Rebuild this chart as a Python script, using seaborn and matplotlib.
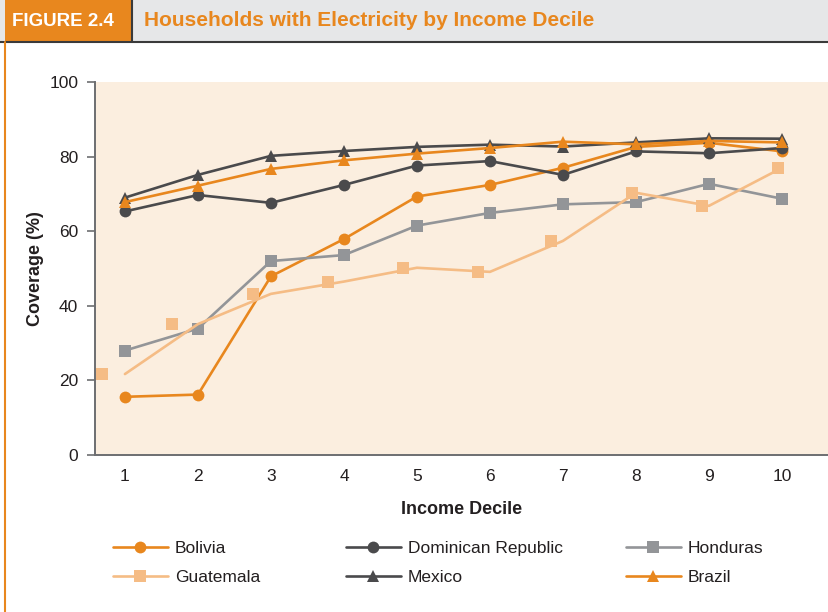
import matplotlib
matplotlib.use("Agg")
import matplotlib.pyplot as plt
from matplotlib.lines import Line2D
from matplotlib.patches import Rectangle
import numpy as np
import pandas as pd
import seaborn as sns

# Values
deciles = [1, 2, 3, 4, 5, 6, 7, 8, 9, 10]
bolivia = [15.6, 16.2, 47.9, 57.9, 69.3, 72.4, 77.0, 82.6, 83.7, 81.4]
dominican = [65.3, 69.7, 67.6, 72.4, 77.6, 78.8, 75.1, 81.4, 80.9, 82.3]
honduras = [28.0, 33.9, 52.0, 53.6, 61.5, 64.9, 67.2, 67.8, 72.7, 68.7]
guatemala = [21.7, 35.1, 43.2, 46.5, 50.2, 49.1, 57.4, 70.3, 66.8, 77.0]
# the printed Guatemala markers sit slightly left of the line vertices
guatemala_marker_deciles = [0.68, 1.64, 2.76, 3.78, 4.81, 5.83, 6.83, 7.95, 8.90, 9.94]
mexico = [69.0, 75.1, 80.2, 81.5, 82.6, 83.2, 82.7, 83.8, 84.9, 84.8]
brazil = [67.8, 72.2, 76.7, 79.0, 80.8, 82.3, 84.0, 83.3, 84.2, 83.8]

ORANGE = "#E8871E"
DARK = "#4A4A4C"
GRAY = "#939598"
LIGHT = "#F5BC85"
BG = "#FBEEDF"
TXT = "#231F20"

sns.set_theme(style="white")
plt.rcParams['font.family'] = ['Liberation Sans', 'DejaVu Sans']

fig = plt.figure(figsize=(8.29, 6.12), dpi=100)

# header band
fig.patches.append(Rectangle((0, 1 - 42 / 612), 1, 42 / 612, transform=fig.transFigure,
                             facecolor="#E6E7E8", edgecolor="none", zorder=0))
fig.patches.append(Rectangle((5 / 829, 1 - 42 / 612), 127 / 829, 42 / 612, transform=fig.transFigure,
                             facecolor=ORANGE, edgecolor="none", zorder=1))
fig.add_artist(Line2D([0, 1], [1 - 42 / 612] * 2, transform=fig.transFigure, color="#3A3A3A", lw=1.5))
fig.add_artist(Line2D([132 / 829] * 2, [1 - 42 / 612, 1], transform=fig.transFigure, color="#3A3A3A", lw=1.5))
fig.add_artist(Line2D([5.5 / 829] * 2, [0, 1 - 42 / 612], transform=fig.transFigure, color=ORANGE, lw=1.5))
fig.text(63 / 829, 1 - 21 / 612, "FIGURE 2.4", color="white", fontsize=13.5, fontweight="bold",
         ha="center", va="center")
fig.text(144 / 829, 1 - 21 / 612, "Households with Electricity by Income Decile", color=ORANGE,
         fontsize=15, fontweight="bold", ha="left", va="center")

ax = fig.add_axes([95 / 829, 1 - 455 / 612, 733 / 829, 373 / 612])
ax.set_facecolor(BG)

series = [
    ("Bolivia", bolivia, ORANGE, "o"),
    ("Dominican Republic", dominican, DARK, "o"),
    ("Honduras", honduras, GRAY, "s"),
    ("Mexico", mexico, DARK, "^"),
    ("Brazil", brazil, ORANGE, "^"),
]

lw = 1.9
for name, vals, col, mk in series:
    sns.lineplot(x=deciles, y=vals, ax=ax, color=col, lw=lw, marker=mk, markersize=8.5,
                 markeredgewidth=0, legend=False)

# Guatemala: line and offset markers
sns.lineplot(x=deciles, y=guatemala, ax=ax, color=LIGHT, lw=lw, legend=False)
sns.scatterplot(x=guatemala_marker_deciles, y=guatemala, ax=ax, color=LIGHT, marker="s",
                s=75, linewidth=0, legend=False, zorder=3)

ax.set_xlim(0.59, 10.63)
ax.set_ylim(0, 100)
ax.set_yticks([0, 20, 40, 60, 80, 100])
ax.set_xticks(deciles)
ax.set_xticks(np.arange(0.59, 10.7, 1.0), minor=True)
ax.tick_params(axis="x", which="major", length=0, pad=10, labelsize=12.5, colors=TXT)
ax.tick_params(axis="x", which="minor", length=7, width=1.2, color="#6D6E71", direction="out")
ax.tick_params(axis="y", length=6, width=1.2, color="#6D6E71", labelsize=12.5, labelcolor=TXT,
               direction="out", left=True, pad=6)
for s in ["top", "right"]:
    ax.spines[s].set_visible(False)
for s in ["left", "bottom"]:
    ax.spines[s].set_color("#6D6E71")
    ax.spines[s].set_linewidth(1.4)

ax.set_xlabel("Income Decile", fontsize=13, fontweight="bold", color=TXT, labelpad=12)
ax.set_ylabel("Coverage (%)", fontsize=13, fontweight="bold", color=TXT, labelpad=4)

def handle(col, mk):
    return Line2D([], [], color=col, lw=lw, marker=mk, markersize=8.5, markeredgewidth=0)

# legend: three one-column blocks, reading row-wise like the reference
columns = [
    ([handle(ORANGE, "o"), handle(LIGHT, "s")], ["Bolivia", "Guatemala"], 97),
    ([handle(DARK, "o"), handle(DARK, "^")], ["Dominican Republic", "Mexico"], 330),
    ([handle(GRAY, "s"), handle(ORANGE, "^")], ["Honduras", "Brazil"], 610),
]
for hs, ls, xpx in columns:
    fig.legend(hs, ls, loc="center left", bbox_to_anchor=(xpx / 829, 1 - 563 / 612),
               frameon=False, fontsize=12.5, handlelength=3.2, labelspacing=0.8,
               handletextpad=0.4, labelcolor=TXT)

fig.savefig("out.png", dpi=100)
